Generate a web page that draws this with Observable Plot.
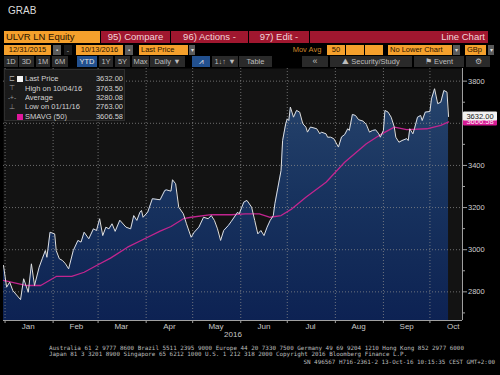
<!DOCTYPE html>
<html><head><meta charset="utf-8">
<script src="https://cdn.jsdelivr.net/npm/d3@7"></script>
<script src="https://cdn.jsdelivr.net/npm/@observablehq/plot@0.6"></script>
<style>
html,body{margin:0;padding:0;background:#000;width:500px;height:375px;overflow:hidden;}
#wrap{position:relative;width:500px;height:375px;font-family:"Liberation Sans",Arial,sans-serif;}
#wrap svg{position:absolute;left:0;top:0;}
.box{position:absolute;box-sizing:border-box;white-space:nowrap;overflow:hidden;line-height:1;display:flex;align-items:center;}
</style></head><body><div id="wrap"></div>
<script>
// ---- data ----
const dates = [
"2015-12-31","2016-01-02","2016-01-04","2016-01-06","2016-01-11","2016-01-13","2016-01-16","2016-01-18","2016-01-20","2016-01-23","2016-01-25","2016-01-27","2016-01-28","2016-01-30",
"2016-02-02","2016-02-03","2016-02-05","2016-02-07","2016-02-09","2016-02-11","2016-02-14","2016-02-17","2016-02-19","2016-02-21","2016-02-24","2016-02-27","2016-02-29",
"2016-03-02","2016-03-04","2016-03-06","2016-03-08","2016-03-10","2016-03-12","2016-03-15","2016-03-19","2016-03-22","2016-03-24","2016-03-26","2016-03-28","2016-03-29","2016-03-30",
"2016-04-02","2016-04-05","2016-04-10","2016-04-13","2016-04-14","2016-04-17","2016-04-18","2016-04-20","2016-04-22","2016-04-25","2016-04-27","2016-04-30",
"2016-05-02","2016-05-05","2016-05-08","2016-05-11","2016-05-13","2016-05-15","2016-05-17","2016-05-19","2016-05-21","2016-05-24","2016-05-26","2016-05-30","2016-05-31",
"2016-06-03","2016-06-05","2016-06-08","2016-06-10","2016-06-12","2016-06-14","2016-06-16","2016-06-18","2016-06-20","2016-06-22","2016-06-23","2016-06-25","2016-06-27","2016-06-28","2016-06-30",
"2016-07-01","2016-07-02","2016-07-03","2016-07-05","2016-07-07","2016-07-09","2016-07-11","2016-07-13","2016-07-14","2016-07-16","2016-07-20","2016-07-22","2016-07-23","2016-07-26","2016-07-27","2016-07-29","2016-07-31",
"2016-08-03","2016-08-05","2016-08-07","2016-08-09","2016-08-10","2016-08-12","2016-08-14","2016-08-16","2016-08-19","2016-08-21","2016-08-23","2016-08-25","2016-08-27","2016-08-29","2016-08-30",
"2016-09-01","2016-09-02","2016-09-04","2016-09-06","2016-09-08","2016-09-09","2016-09-11","2016-09-13","2016-09-16","2016-09-17","2016-09-18","2016-09-20","2016-09-21","2016-09-23","2016-09-25","2016-09-26","2016-09-28",
"2016-10-01","2016-10-02","2016-10-04","2016-10-06","2016-10-08","2016-10-10","2016-10-12","2016-10-13"];
const prices = [
2925,2822,2846,2806,2763,2862,2798,2933,2830,2917,2957,2996,2964,3083,
3075,2996,2957,2949,2933,2909,2996,3044,3036,3083,3052,3099,3091,
3147,3067,3107,3099,3123,3087,3140,3107,3099,3162,3139,3178,3186,3154,
3178,3242,3237,3281,3284,3278,3332,3313,3202,3170,3123,3059,
3083,3107,3154,3147,3162,3139,3099,3044,3091,3115,3135,3178,3170,
3226,3234,3202,3139,3075,3091,3067,3107,3139,3162,3218,3297,3376,3518,3598,
3621,3613,3677,3629,3661,3653,3598,3582,3558,3582,3574,3550,3558,3550,3534,3534,3527,
3487,3535,3546,3574,3566,3642,3637,3617,3610,3594,3558,3566,3569,3550,3534,
3566,3661,3653,3629,3582,3534,3510,3518,3527,3518,3574,3550,3574,3629,3637,3613,3653,
3656,3716,3764,3693,3700,3756,3748,3632];
const smaDates = ["2015-12-31","2016-01-15","2016-01-24","2016-02-03","2016-02-13","2016-02-21","2016-02-29","2016-03-09","2016-03-20","2016-03-31","2016-04-10","2016-04-17","2016-04-25","2016-04-30","2016-05-13","2016-05-26","2016-06-04","2016-06-13","2016-06-20","2016-06-27","2016-07-04","2016-07-13","2016-07-26","2016-08-07","2016-08-21","2016-08-31","2016-09-08","2016-09-16","2016-09-29","2016-10-08","2016-10-13"];
const smaValues = [2854,2830,2830,2873,2873,2893,2925,2960,3012,3052,3088,3110,3147,3154,3166,3166,3170,3170,3154,3162,3194,3249,3320,3415,3503,3550,3582,3570,3574,3590,3606.58];
const monthLabels = ["Jan","Feb","Mar","Apr","May","Jun","Jul","Aug","Sep","Oct"];
const yearLabel = "2016";
const yMajorTicks = [2800,3000,3200,3400,3600,3800];
const yTickLabels = ["2800","3000","3200","3400","","3800"]; // 3600 is hidden under the last-value tags
const yMinorTicks = [2700,2900,3100,3300,3500,3700];
const legendLabels = ["Last Price","High on 10/04/16","Average","Low on 01/11/16","SMAVG (50)"];
const legendValues = ["3632.00","3763.50","3280.08","2763.00","3606.58"];
const lastPrice = 3632.00, lastSma = 3606.58;
const footerLines = [
"Australia 61 2 9777 8600 Brazil 5511 2395 9000 Europe 44 20 7330 7500 Germany 49 69 9204 1210 Hong Kong 852 2977 6000",
"Japan 81 3 3201 8900      Singapore 65 6212 1000      U.S. 1 212 318 2000      Copyright 2016 Bloomberg Finance L.P.",
"SN 496567 H716-2361-2 13-Oct-16 10:15:35 CEST GMT+2:00"];

// ---- chart ----
const yDomain = [2664, 3860];
const xDomain = [new Date("2015-12-31"), new Date("2016-10-22")];
const price = dates.map((d, i) => ({date: new Date(d), value: prices[i]}));
const sma = smaDates.map((d, i) => ({date: new Date(d), value: smaValues[i]}));
const monthStarts = d3.utcMonth.range(new Date("2016-01-01"), new Date("2016-10-02"));
const monthMids = monthStarts.map(d => d3.utcDay.offset(d, 15));

const gradDefs = () => {
  const defs = d3.create("svg:defs");
  const g = defs.append("linearGradient").attr("id", "areaGrad")
    .attr("x1", 0).attr("y1", 0).attr("x2", 0).attr("y2", 1);
  [[0, "#26446c"], [0.2, "#203c66"], [0.45, "#18335f"], [0.75, "#122a58"], [1, "#0d2253"]]
    .forEach(([o, c]) => g.append("stop").attr("offset", o).attr("stop-color", c));
  return defs.node();
};

const chart = Plot.plot({
  width: 500, height: 375,
  marginTop: 68, marginBottom: 55, marginLeft: 3, marginRight: 38,
  style: {background: "transparent", color: "#c8c8c8", fontFamily: "'Liberation Sans', Arial, sans-serif", fontSize: "8px"},
  x: {type: "utc", domain: xDomain, axis: null, label: null},
  y: {domain: yDomain, axis: null, label: null},
  marks: [
    gradDefs,
    Plot.frame({fill: "#131313", stroke: null}),
    Plot.areaY(price, {x: "date", y1: yDomain[0], y2: "value", fill: "url(#areaGrad)"}),
    Plot.gridY(yMajorTicks, {stroke: "#8c8c8c", strokeOpacity: 0.75, strokeDasharray: "1,2"}),
    Plot.gridX(monthStarts, {stroke: "#8c8c8c", strokeOpacity: 0.75, strokeDasharray: "1,2"}),
    Plot.line(sma, {x: "date", y: "value", stroke: "#c2258f", strokeWidth: 1.3}),
    Plot.line(price, {x: "date", y: "value", stroke: "#dedede", strokeWidth: 1}),
    Plot.ruleY([yDomain[0]], {stroke: "#a0a0a0"}),
    Plot.ruleX([xDomain[1]], {stroke: "#a0a0a0"}),
    Plot.axisX(monthStarts, {tickSize: 3, tickFormat: () => "", stroke: "#a0a0a0", label: null}),
    Plot.axisX(monthMids, {tickSize: 0, tickPadding: 3, tickFormat: d => monthLabels[d.getUTCMonth()], fill: "#c8c8c8", fontSize: 8, label: null}),
    Plot.text([yearLabel], {frameAnchor: "bottom", dy: 16, fill: "#c8c8c8", fontSize: 8}),
    Plot.axisY(yMinorTicks, {anchor: "right", tickSize: 2, tickFormat: () => "", stroke: "#a0a0a0", label: null}),
    Plot.axisY(yMajorTicks, {anchor: "right", tickSize: 4, tickPadding: 1.5, tickFormat: d => yTickLabels[yMajorTicks.indexOf(d)], fill: "#d0d0d0", stroke: "#a0a0a0", fontSize: 7.5, label: null})
  ]
});

// last value tags on the right axis, placed with the plot's own y scale
const ys = chart.scale("y");
const sel = d3.select(chart);
const tag = (v, bg, fg, txt, h) => {
  const cy = ys.apply(v);
  const g = sel.append("g");
  g.append("rect").attr("x", 463).attr("y", cy - h / 2).attr("width", 34).attr("height", h)
    .attr("fill", bg).attr("rx", 1);
  g.append("text").attr("x", 480).attr("y", cy).attr("dy", "0.35em").attr("text-anchor", "middle")
    .attr("fill", fg).attr("font-size", 7.5).text(txt);
};
tag(lastSma, "#d61a93", "#fde8f4", legendValues[4], 8);
tag(lastPrice, "#f2f2f2", "#1a1a1a", legendValues[0], 9);

const wrap = document.getElementById("wrap");
wrap.appendChild(chart);

// ---- terminal chrome (HTML overlays) ----
function box(x, y, w, h, bg, color, text, opts = {}) {
  const d = document.createElement("div");
  d.className = "box";
  Object.assign(d.style, {
    left: x + "px", top: y + "px", width: w + "px", height: h + "px",
    background: bg || "transparent", color: color || "#ccc",
    fontSize: (opts.fs || 8) + "px",
    justifyContent: opts.align === "right" ? "flex-end" : opts.align === "left" ? "flex-start" : "center",
    paddingLeft: (opts.pl || 0) + "px", paddingRight: (opts.pr || 0) + "px",
    fontFamily: opts.ff || "inherit"
  });
  d.textContent = text || "";
  wrap.appendChild(d);
  return d;
}
const OR = "#f5a02c", DK = "#2a1400", RED = "#a0172f", RT = "#f2d4d8", GR = "#2a2a2a", GT = "#bdbdbd", BL = "#22508f";
box(8, 5, 40, 12, null, "#dcdcdc", "GRAB", {fs: 10, align: "left"});
// row 1
box(4, 31, 96, 12, OR, DK, "ULVR LN Equity", {fs: 9.5, align: "left", pl: 2});
box(101, 31, 69, 12, RED, RT, "95) Compare", {fs: 9.5});
box(171, 31, 77, 12, RED, RT, "96) Actions -", {fs: 9.5});
box(249, 31, 60, 12, RED, RT, "97) Edit  -", {fs: 9.5});
box(310, 31, 178, 12, RED, RT, "Line Chart", {fs: 9.5, align: "right", pr: 3});
// row 2
box(4, 45, 47, 10, OR, DK, "12/31/2015", {fs: 7.5});
box(53, 45, 8, 10, "#5a5a5a", "#ddd", "▪", {fs: 6});
box(64, 45, 8, 10, "#1c1c1c", "#aaa", "-", {fs: 7});
box(76, 45, 47, 10, OR, DK, "10/13/2016", {fs: 7.5});
box(125, 45, 8, 10, "#5a5a5a", "#ddd", "▪", {fs: 6});
box(139, 45, 49, 10, OR, DK, "Last Price", {fs: 7.5, align: "left", pl: 2});
box(189, 45, 6, 10, "#5a5a5a", "#ddd", "▾", {fs: 6});
box(290, 45, 34, 10, null, "#d08a2a", "Mov Avg", {fs: 7.5});
box(327, 45, 18, 10, OR, DK, "50", {fs: 7.5});
box(346, 45, 18, 10, OR, DK, "", {});
box(365, 45, 18, 10, OR, DK, "", {});
box(388, 45, 64, 10, OR, DK, "No Lower Chart", {fs: 7.5, align: "left", pl: 2});
box(453, 45, 7, 10, "#5a5a5a", "#ddd", "▾", {fs: 6});
box(465, 45, 21, 10, OR, DK, "GBp", {fs: 7.5, align: "left", pl: 2});
box(488, 45, 6, 10, "#5a5a5a", "#ddd", "▾", {fs: 6});
// row 3
[[4, 14, "1D"], [19, 15, "3D"], [36, 14, "1M"], [52, 16, "6M"], [99, 14, "1Y"], [115, 15, "5Y"], [132, 17, "Max"], [150, 35, "Daily ▼"], [212, 26, "1↓↑ ▼"], [239, 33, "Table"]]
  .forEach(([x, w, t]) => box(x, 56, w, 11, GR, GT, t, {fs: 7.5}));
box(77, 56, 20, 11, BL, "#e6e6e6", "YTD", {fs: 7.5});
box(192, 56, 18, 11, BL, "#e6e6e6", "⩘", {fs: 8});
box(302, 56, 26, 11, GR, GT, "«", {fs: 9});
box(330, 56, 82, 11, GR, GT, "⛰ Security/Study", {fs: 7.5});
box(414, 56, 50, 11, GR, GT, "⚑  Event", {fs: 7.5});
box(466, 56, 24, 11, GR, GT, "⚙", {fs: 8});

// legend
const lg = box(4, 69, 121, 52, "rgba(27,27,27,0.96)", "#d0d0d0", "", {});
lg.style.border = "1px solid #2e2e2e";
const icons = ["⊏", "⊤", "-+-", "⊥", ""];
legendLabels.forEach((lab, i) => {
  const top = 74.5 + i * 9.4;
  box(7, top, 10, 9, null, "#9a9a9a", icons[i], {fs: 6.5});
  if (i === 0) box(17, top + 1.5, 6, 6, "#f4f4f4", null, "");
  if (i === 4) box(17, top + 1.5, 6, 6, "#e0189c", null, "");
  box(25, top, 62, 9, null, "#d2d2d2", lab, {fs: 7.5, align: "left"});
  box(88, top, 35, 9, null, "#d2d2d2", legendValues[i], {fs: 7.5, align: "right"});
});

// footer
box(49, 345, 420, 7, null, "#bdbdbd", footerLines[0], {fs: 5.9, align: "left", ff: "'DejaVu Sans Mono', monospace"});
box(49, 351, 420, 7, null, "#bdbdbd", footerLines[1], {fs: 5.9, align: "left", ff: "'DejaVu Sans Mono', monospace"});
box(300, 359, 200, 7, null, "#bdbdbd", footerLines[2], {fs: 5.9, align: "right", pr: 5, ff: "'DejaVu Sans Mono', monospace"});
</script></body></html>
